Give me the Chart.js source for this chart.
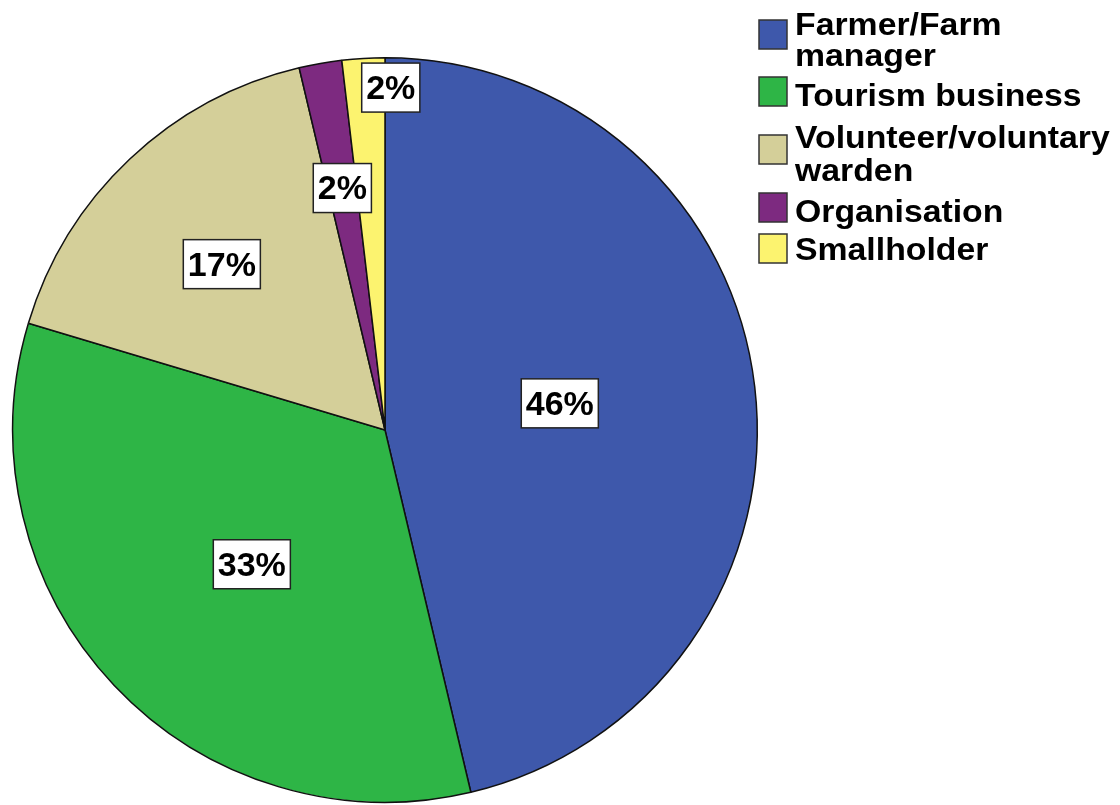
<!DOCTYPE html>
<html>
<head>
<meta charset="utf-8">
<script src="https://cdn.jsdelivr.net/npm/chart.js"></script>
<style>
  html, body { margin: 0; padding: 0; background: #fff; }
  #wrap { position: relative; width: 1120px; height: 805px; }
</style>
</head>
<body>
<div id="wrap"><canvas id="pie" width="1120" height="805"></canvas></div>
<script>
// ============ data ============
const categories = ['Farmer/Farm manager', 'Tourism business', 'Volunteer/voluntary warden', 'Organisation', 'Smallholder'];
const legendLines = [['Farmer/Farm', 'manager'], ['Tourism business'], ['Volunteer/voluntary', 'warden'], ['Organisation'], ['Smallholder']];
const counts = [25, 18, 9, 1, 1];
const percentLabels = ['46%', '33%', '17%', '2%', '2%'];
const sliceColors = ['#3e58ab', '#2eb546', '#d4cf99', '#7d2a80', '#fcf36f'];

// label placement (fraction of radius, angle nudge in degrees)
const labelRadius = [0.475, 0.508, 0.625, 0.66, 0.92];
const labelNudge = [-2, -1.9, -1.2, 0, 4.3];

// legend layout
const legendSquareY = [20, 77, 135, 193, 234];
const legendBaselines = [[35, 66], [106], [148, 181], [222], [260]];

const FONT = "'Liberation Sans', Arial, sans-serif";

// ============ plugin: boxed % labels + legend ============
const spssLabels = {
    id: 'spssLabels',
    afterDatasetsDraw(chart) {
        const ctx = chart.ctx;
        const meta = chart.getDatasetMeta(0);
        ctx.save();
        ctx.font = `bold 34px ${FONT}`;
        ctx.textAlign = 'center';
        ctx.textBaseline = 'middle';
        meta.data.forEach((arc, i) => {
            const mid = (arc.startAngle + arc.endAngle) / 2 + labelNudge[i] * Math.PI / 180;
            const r = arc.outerRadius * labelRadius[i];
            const x = arc.x + Math.cos(mid) * r;
            const y = arc.y + Math.sin(mid) * r;
            const w = ctx.measureText(percentLabels[i]).width + 9;
            const h = 49;
            ctx.fillStyle = '#ffffff';
            ctx.fillRect(x - w / 2, y - h / 2, w, h);
            ctx.strokeStyle = '#222';
            ctx.lineWidth = 1.5;
            ctx.strokeRect(x - w / 2, y - h / 2, w, h);
            ctx.fillStyle = '#000';
            ctx.fillText(percentLabels[i], x, y + 2);
        });

        // legend
        ctx.textAlign = 'left';
        ctx.textBaseline = 'alphabetic';
        ctx.font = `bold 31px ${FONT}`;
        categories.forEach((c, i) => {
            ctx.fillStyle = sliceColors[i];
            ctx.fillRect(759, legendSquareY[i], 28, 29);
            ctx.strokeStyle = '#333';
            ctx.lineWidth = 1.5;
            ctx.strokeRect(759, legendSquareY[i], 28, 29);
            ctx.fillStyle = '#000';
            legendLines[i].forEach((line, j) => {
                ctx.save();
                ctx.translate(795, legendBaselines[i][j]);
                ctx.scale(1.09, 1);
                ctx.fillText(line, 0, 0);
                ctx.restore();
            });
        });
        ctx.restore();
    }
};

new Chart(document.getElementById('pie'), {
    type: 'pie',
    data: {
        labels: categories,
        datasets: [{
            data: counts,
            backgroundColor: sliceColors,
            borderColor: '#111',
            borderWidth: 1.5,
        }]
    },
    options: {
        responsive: false,
        animation: false,
        layout: { padding: { left: 12, right: 362, top: 57, bottom: 2 } },
        plugins: {
            legend: { display: false },
            tooltip: { enabled: false },
        }
    },
    plugins: [spssLabels]
});
</script>
</body>
</html>
